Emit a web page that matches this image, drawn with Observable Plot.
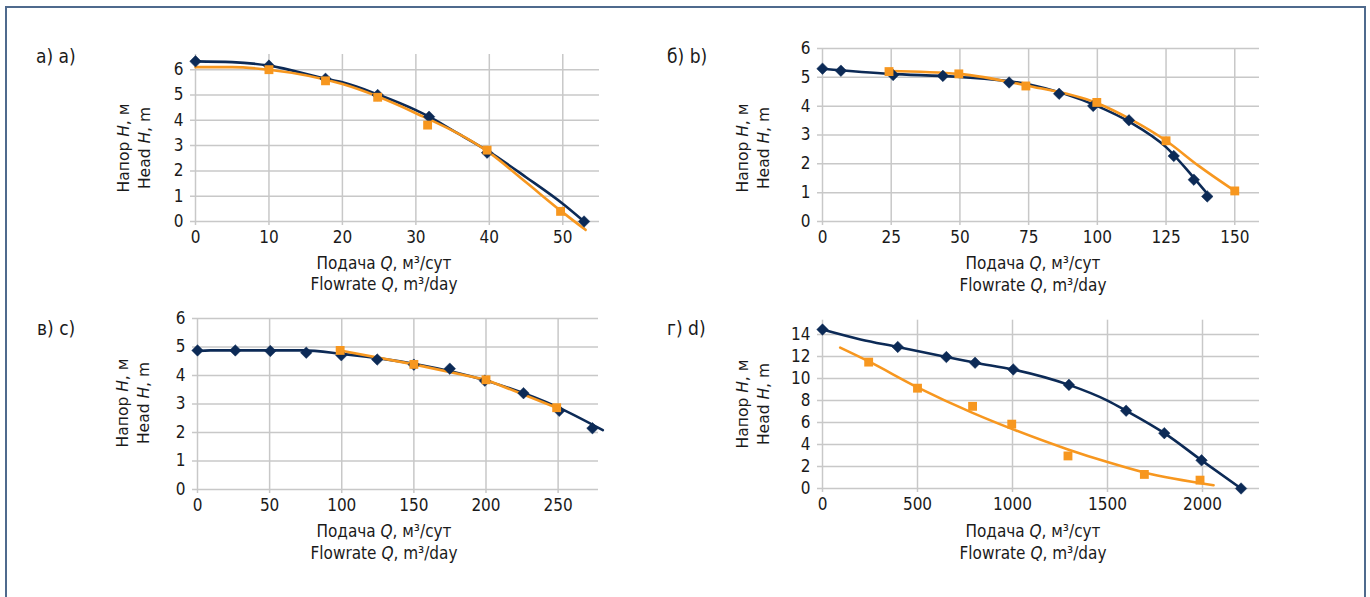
<!DOCTYPE html>
<html>
<head>
<meta charset="utf-8">
<script src="https://cdn.jsdelivr.net/npm/d3@7"></script>
<script src="https://cdn.jsdelivr.net/npm/@observablehq/plot@0.6"></script>
<style>
  html, body { margin: 0; padding: 0; background: #fff; }
  #root { position: relative; width: 1370px; height: 597px; overflow: hidden; background: #fff; }
  #frame { position: absolute; left: 5px; top: 6px; width: 1361px; height: 620px; border: 2px solid #4f6a8d; box-sizing: border-box; }
  .holder { position: absolute; }
  .holder svg { overflow: visible; }
  .plab { position: absolute; font-family: "Liberation Sans Narrow", "DejaVu Sans Condensed", sans-serif; font-size: 19px; color: #1a1a1a; white-space: nowrap; line-height: 1; }
  .xlab { position: absolute; font-family: "Liberation Sans Narrow", "DejaVu Sans Condensed", sans-serif; font-size: 17px; color: #1a1a1a; white-space: nowrap; text-align: center; transform: translate(-50%, -50%); line-height: 1; }
  .ylab { position: absolute; font-family: "DejaVu Sans", sans-serif; font-size: 15.5px; color: #1a1a1a; white-space: nowrap; transform: translate(-50%, -50%) rotate(-90deg); line-height: 1; }
</style>
</head>
<body>
<div id="root"><div id="frame"></div></div>
<script>
// ---------------- DATA ----------------
// Panel а) a)
const aXTicks = [0, 10, 20, 30, 40, 50];
const aYTicks = [0, 1, 2, 3, 4, 5, 6];
const aNavyQ = [0, 10, 17.7, 24.8, 31.8, 39.7, 52.9];
const aNavyH = [6.33, 6.16, 5.64, 5.0, 4.14, 2.72, 0];
const aNavyCurveQ = [0, 5, 10, 17.7, 20, 25, 30, 31.8, 35, 40, 45, 50, 52.9];
const aNavyCurveH = [6.33, 6.3, 6.16, 5.64, 5.5, 5.0, 4.4, 4.14, 3.6, 2.75, 1.75, 0.7, 0];
const aOrangeQ = [10, 17.7, 24.8, 31.6, 39.7, 49.7];
const aOrangeH = [6.0, 5.56, 4.91, 3.81, 2.82, 0.4];
const aOrangeCurveQ = [0, 5, 10, 20, 30, 40, 45, 50, 53.1];
const aOrangeCurveH = [6.1, 6.1, 6.0, 5.43, 4.28, 2.72, 1.55, 0.36, -0.33];

// Panel б) b)
const bXTicks = [0, 25, 50, 75, 100, 125, 150];
const bYTicks = [0, 1, 2, 3, 4, 5, 6];
const bNavyQ = [0, 6.7, 25.7, 43.8, 67.9, 86.1, 98.5, 111.5, 127.8, 135.1, 140];
const bNavyH = [5.3, 5.23, 5.08, 5.05, 4.82, 4.43, 4.01, 3.51, 2.27, 1.45, 0.87];
const bNavyCurveQ = [0, 24.5, 49, 75.3, 99.8, 112, 125, 134.8, 140.4];
const bNavyCurveH = [5.3, 5.12, 5.02, 4.75, 4.01, 3.44, 2.58, 1.55, 0.92];
const bOrangeQ = [24.2, 49.6, 74, 99.8, 125, 150];
const bOrangeH = [5.2, 5.12, 4.7, 4.13, 2.8, 1.06];
const bOrangeCurveQ = [24.2, 49.6, 74, 99.8, 112, 125, 137, 150];
const bOrangeCurveH = [5.22, 5.12, 4.72, 4.11, 3.55, 2.8, 1.92, 1.06];

// Panel в) c)
const cXTicks = [0, 50, 100, 150, 200, 250];
const cYTicks = [0, 1, 2, 3, 4, 5, 6];
const cNavyQ = [0, 26.2, 50.5, 75.4, 99.7, 124.6, 150, 174.9, 199.2, 226, 250.8, 273.8];
const cNavyH = [4.88, 4.88, 4.86, 4.8, 4.71, 4.56, 4.38, 4.24, 3.82, 3.38, 2.76, 2.15];
const cNavyCurveQ = [0, 9, 72.7, 100, 150, 200, 250, 281];
const cNavyCurveH = [4.86, 4.88, 4.88, 4.76, 4.41, 3.82, 2.88, 2.08];
const cOrangeQ = [98.9, 150, 200, 249];
const cOrangeH = [4.88, 4.39, 3.85, 2.87];

// Panel г) d)
const dXTicks = [0, 500, 1000, 1500, 2000];
const dYTicks = [0, 2, 4, 6, 8, 10, 12, 14];
const dNavyQ = [0, 396, 652, 803, 1004, 1297, 1598, 1799, 1995, 2203];
const dNavyH = [14.45, 12.87, 11.95, 11.43, 10.82, 9.42, 7.07, 5.03, 2.56, 0];
const dNavyCurveQ = [0, 200, 396, 652, 803, 1004, 1297, 1500, 1598, 1799, 1995, 2203];
const dNavyCurveH = [14.45, 13.55, 12.87, 11.95, 11.43, 10.82, 9.42, 7.99, 7.07, 5.03, 2.56, 0];
const dOrangeQ = [243, 500, 790, 996, 1292, 1694, 1987];
const dOrangeH = [11.49, 9.12, 7.47, 5.85, 2.96, 1.28, 0.76];
const dOrangeCurveQ = [93, 243, 500, 790, 1000, 1292, 1500, 1694, 2058];
const dOrangeCurveH = [12.8, 11.55, 9.2, 6.88, 5.4, 3.55, 2.4, 1.45, 0.3];

const panelLabels = ["а) a)", "б) b)", "в) c)", "г) d)"];
const xLabelRu = ["Подача ", "Q", ", м³/сут"];
const xLabelEn = ["Flowrate ", "Q", ", m³/day"];
const yLabelRu = ["Напор ", "H", ", м"];
const yLabelEn = ["Head ", "H", ", m"];

// ---------------- STYLE ----------------
const NAVY = "#0c2a56";
const ORANGE = "#f7971f";
const GRID = "#c8c8c8";
const NARROW = '"Liberation Sans Narrow", "DejaVu Sans Condensed", sans-serif';

const zip = (qs, hs) => qs.map((q, i) => ({Q: q, H: hs[i]}));
const root = document.getElementById("root");

function panel(cfg) {
  const {left, top, w, h, px0, px1, py0, py1, xDomain, yDomain, xTicks, yTicks,
         navyLine, navyPts, orangeLine, orangePts, orangeCurve} = cfg;
  const fmt = d => String(d);
  const chart = Plot.plot({
    width: w, height: h,
    marginLeft: px0 - left, marginRight: left + w - px1,
    marginTop: py1 - top, marginBottom: top + h - py0,
    style: {fontFamily: NARROW, fontSize: "17px", color: "#1a1a1a", background: "transparent", overflow: "visible"},
    x: {domain: xDomain},
    y: {domain: yDomain},
    marks: [
      Plot.ruleY(yTicks, {stroke: GRID, strokeWidth: 1.5, insetLeft: -5}),
      Plot.ruleX(xTicks, {stroke: GRID, strokeWidth: 1.5, insetBottom: -4}),
      Plot.axisX(xTicks, {tickSize: 0, tickPadding: 9, label: null, tickFormat: fmt}),
      Plot.axisY(yTicks, {tickSize: 0, tickPadding: 12, label: null, tickFormat: fmt}),
      Plot.line(navyLine, {x: "Q", y: "H", stroke: NAVY, strokeWidth: 2.6, curve: "monotone-x"}),
      Plot.line(orangeLine, {x: "Q", y: "H", stroke: ORANGE, strokeWidth: 2.6, curve: orangeCurve}),
      Plot.dot(navyPts, {x: "Q", y: "H", symbol: "diamond2", fill: NAVY, stroke: NAVY, strokeWidth: 0.5, r: 5.2}),
      Plot.dot(orangePts, {x: "Q", y: "H", symbol: "square", fill: ORANGE, r: 5})
    ]
  });
  const holder = document.createElement("div");
  holder.className = "holder";
  holder.style.left = left + "px";
  holder.style.top = top + "px";
  holder.appendChild(chart);
  root.appendChild(holder);
}

function addText(cls, parts, x, y) {
  const el = document.createElement("div");
  el.className = cls;
  el.style.left = x + "px";
  el.style.top = y + "px";
  if (Array.isArray(parts)) {
    el.append(parts[0]);
    const i = document.createElement("i");
    i.textContent = parts[1];
    el.append(i);
    el.append(parts[2]);
  } else {
    el.textContent = parts;
  }
  root.appendChild(el);
}

panel({left: 140, top: 30, w: 480, h: 250, px0: 195, px1: 599, py0: 221, py1: 54,
  xDomain: [0, 55], yDomain: [0, 6.6], xTicks: aXTicks, yTicks: aYTicks,
  navyLine: zip(aNavyCurveQ, aNavyCurveH), navyPts: zip(aNavyQ, aNavyH),
  orangeLine: zip(aOrangeCurveQ, aOrangeCurveH), orangePts: zip(aOrangeQ, aOrangeH), orangeCurve: "monotone-x"});

panel({left: 770, top: 30, w: 510, h: 250, px0: 822, px1: 1259, py0: 221, py1: 48,
  xDomain: [0, 159], yDomain: [0, 6], xTicks: bXTicks, yTicks: bYTicks,
  navyLine: zip(bNavyCurveQ, bNavyCurveH), navyPts: zip(bNavyQ, bNavyH),
  orangeLine: zip(bOrangeCurveQ, bOrangeCurveH), orangePts: zip(bOrangeQ, bOrangeH), orangeCurve: "monotone-x"});

panel({left: 140, top: 300, w: 480, h: 250, px0: 197, px1: 598, py0: 489, py1: 318,
  xDomain: [0, 278], yDomain: [0, 6], xTicks: cXTicks, yTicks: cYTicks,
  navyLine: zip(cNavyCurveQ, cNavyCurveH), navyPts: zip(cNavyQ, cNavyH),
  orangeLine: zip(cOrangeQ, cOrangeH), orangePts: zip(cOrangeQ, cOrangeH), orangeCurve: "linear"});

panel({left: 770, top: 300, w: 510, h: 250, px0: 822, px1: 1259, py0: 488, py1: 319.7,
  xDomain: [0, 2300], yDomain: [0, 15.3], xTicks: dXTicks, yTicks: dYTicks,
  navyLine: zip(dNavyCurveQ, dNavyCurveH), navyPts: zip(dNavyQ, dNavyH),
  orangeLine: zip(dOrangeCurveQ, dOrangeCurveH), orangePts: zip(dOrangeQ, dOrangeH), orangeCurve: "monotone-x"});

// panel labels
addText("plab", panelLabels[0], 36, 47);
addText("plab", panelLabels[1], 667, 47);
addText("plab", panelLabels[2], 37, 319);
addText("plab", panelLabels[3], 667, 319);

// x axis labels
addText("xlab", xLabelRu, 384, 263);
addText("xlab", xLabelEn, 384, 284);
addText("xlab", xLabelRu, 1033, 263);
addText("xlab", xLabelEn, 1033, 285);
addText("xlab", xLabelRu, 384, 531);
addText("xlab", xLabelEn, 384, 553);
addText("xlab", xLabelRu, 1033, 531);
addText("xlab", xLabelEn, 1033, 553);

// y axis labels
addText("ylab", yLabelRu, 125, 148);
addText("ylab", yLabelEn, 146, 148);
addText("ylab", yLabelRu, 744, 148);
addText("ylab", yLabelEn, 765, 148);
addText("ylab", yLabelRu, 124, 403);
addText("ylab", yLabelEn, 145, 403);
addText("ylab", yLabelRu, 744, 404);
addText("ylab", yLabelEn, 765, 404);
</script>
</body>
</html>
